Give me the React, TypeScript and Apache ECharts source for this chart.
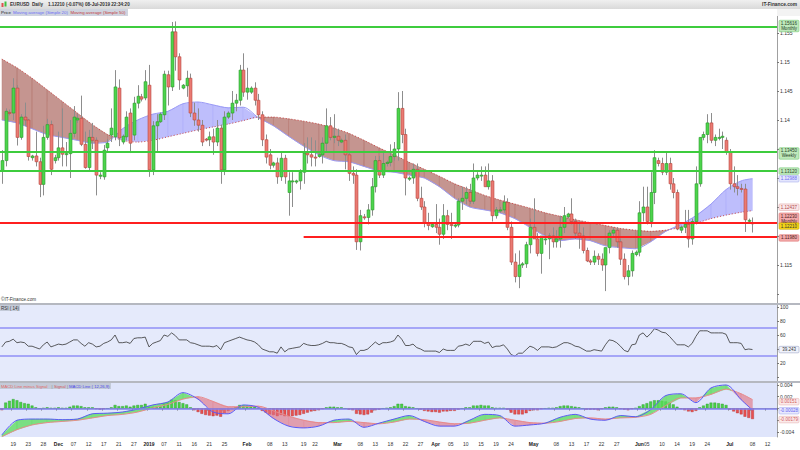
import React, { useEffect, useRef } from 'react';
import * as echarts from 'echarts';

// ---------- axis calendar (forex sessions incl. Sunday, no Dec 25 / Jan 1) ----------
const HOLIDAYS = ['2018-12-25', '2019-01-01'];
function buildDates(): string[] {
  const out: string[] = [];
  const d = new Date(Date.UTC(2018, 10, 15));
  const end = new Date(Date.UTC(2019, 6, 15));
  while (d <= end) {
    const s = d.toISOString().slice(0, 10);
    if (d.getUTCDay() !== 6 && !HOLIDAYS.includes(s)) out.push(s);
    d.setUTCDate(d.getUTCDate() + 1);
  }
  return out;
}
const dates = buildDates();

const tickDays = ['2018-11-19','2018-11-23','2018-11-28','2018-12-03','2018-12-07','2018-12-12','2018-12-17','2018-12-21','2018-12-27','2019-01-02','2019-01-07','2019-01-11','2019-01-16','2019-01-21','2019-01-25','2019-02-01','2019-02-08','2019-02-13','2019-02-19','2019-02-22','2019-03-01','2019-03-08','2019-03-13','2019-03-18','2019-03-22','2019-03-27','2019-04-01','2019-04-05','2019-04-10','2019-04-15','2019-04-19','2019-04-24','2019-05-01','2019-05-08','2019-05-13','2019-05-17','2019-05-22','2019-05-27','2019-06-03','2019-06-05','2019-06-10','2019-06-14','2019-06-19','2019-06-24','2019-07-01','2019-07-08','2019-07-12'];
const monthTicks: Record<string, string> = {'2018-12-03':'Dec','2019-01-02':'2019','2019-02-01':'Feb','2019-03-01':'Mar','2019-04-01':'Apr','2019-05-01':'May','2019-06-03':'Jun','2019-07-01':'Jul'};

// ---------- EURUSD daily candles [open, high, low, close] ----------
const candles: number[][] = [
[1.1313,1.1348,1.1290,1.1330],[1.1330,1.1420,1.1320,1.1415],[1.1413,1.1418,1.1408,1.1412],[1.1412,1.1472,1.1400,1.1455],[1.1455,1.1460,1.1356,1.1370],
[1.1370,1.1410,1.1366,1.1405],[1.1405,1.1430,1.1390,1.1400],[1.1400,1.1402,1.1330,1.1337],[1.1335,1.1340,1.1330,1.1338],[1.1338,1.1380,1.1320,1.1328],
[1.1328,1.1335,1.1267,1.1289],[1.1289,1.1390,1.1270,1.1370],[1.1370,1.1402,1.1366,1.1392],[1.1392,1.1399,1.1305,1.1315],[1.1330,1.1340,1.1325,1.1335],
[1.1335,1.1380,1.1330,1.1352],[1.1352,1.1420,1.1320,1.1341],[1.1341,1.1362,1.1320,1.1342],[1.1342,1.1400,1.1300,1.1377],[1.1377,1.1424,1.1370,1.1405],
[1.1400,1.1410,1.1395,1.1403],[1.1403,1.1442,1.1355,1.1358],[1.1358,1.1380,1.1316,1.1318],[1.1318,1.1383,1.1312,1.1370],[1.1370,1.1395,1.1350,1.1365],
[1.1365,1.1370,1.1270,1.1305],[1.1303,1.1310,1.1298,1.1305],[1.1302,1.1357,1.1297,1.1348],[1.1352,1.1367,1.1345,1.1360],[1.1374,1.1420,1.1362,1.1386],
[1.1371,1.1486,1.1365,1.1457],[1.1455,1.1470,1.1355,1.1369],[1.1362,1.1375,1.1358,1.1372],[1.1371,1.1415,1.1365,1.1405],[1.1412,1.1420,1.1343,1.1360],
[1.1374,1.1440,1.1365,1.1429],[1.1429,1.1460,1.1420,1.1441],[1.1440,1.1445,1.1432,1.1436],[1.1438,1.1486,1.1434,1.1466],[1.1460,1.1495,1.1302,1.1314],
[1.1314,1.1398,1.1305,1.1390],[1.1390,1.1410,1.1345,1.1397],[1.1397,1.1413,1.1395,1.1410],[1.1409,1.1485,1.1400,1.1479],[1.1478,1.1485,1.1425,1.1457],
[1.1457,1.1569,1.1450,1.1552],[1.1552,1.1570,1.1485,1.1509],[1.1509,1.1515,1.1452,1.1469],[1.1455,1.1462,1.1453,1.1460],[1.1459,1.1485,1.1440,1.1472],
[1.1472,1.1480,1.1405,1.1412],[1.1412,1.1430,1.1390,1.1400],[1.1400,1.1420,1.1380,1.1391],[1.1391,1.1400,1.1355,1.1362],[1.1367,1.1369,1.1363,1.1366],
[1.1366,1.1380,1.1355,1.1371],[1.1371,1.1385,1.1340,1.1362],[1.1362,1.1400,1.1355,1.1386],[1.1386,1.1392,1.1290,1.1314],[1.1314,1.1415,1.1305,1.1405],
[1.1405,1.1415,1.1402,1.1412],[1.1412,1.1450,1.1400,1.1429],[1.1429,1.1445,1.1415,1.1434],[1.1434,1.1495,1.1425,1.1486],[1.1486,1.1515,1.1440,1.1448],
[1.1448,1.1490,1.1435,1.1455],[1.1448,1.1458,1.1445,1.1455],[1.1455,1.1465,1.1425,1.1434],[1.1434,1.1445,1.1400,1.1409],[1.1409,1.1415,1.1355,1.1366],
[1.1366,1.1375,1.1325,1.1336],[1.1340,1.1350,1.1315,1.1322],[1.1322,1.1328,1.1318,1.1326],[1.1326,1.1335,1.1290,1.1302],[1.1302,1.1345,1.1295,1.1334],
[1.1334,1.1340,1.1290,1.1302],[1.1275,1.1310,1.1235,1.1295],[1.1295,1.1310,1.1250,1.1295],[1.1293,1.1297,1.1290,1.1295],[1.1295,1.1315,1.1280,1.1310],
[1.1310,1.1360,1.1290,1.1343],[1.1343,1.1370,1.1325,1.1340],[1.1340,1.1370,1.1320,1.1336],[1.1336,1.1365,1.1320,1.1335],[1.1337,1.1343,1.1335,1.1340],
[1.1340,1.1370,1.1325,1.1360],[1.1360,1.1420,1.1345,1.1390],[1.1390,1.1405,1.1365,1.1370],[1.1370,1.1410,1.1360,1.1372],[1.1372,1.1385,1.1355,1.1365],
[1.1362,1.1368,1.1360,1.1365],[1.1365,1.1375,1.1315,1.1340],[1.1340,1.1345,1.1295,1.1308],[1.1308,1.1320,1.1290,1.1305],[1.1305,1.1315,1.1176,1.1190],
[1.1190,1.1245,1.1175,1.1235],[1.1233,1.1238,1.1228,1.1232],[1.1232,1.1255,1.1220,1.1245],[1.1245,1.1300,1.1235,1.1285],[1.1285,1.1338,1.1275,1.1330],
[1.1330,1.1338,1.1300,1.1305],[1.1305,1.1345,1.1300,1.1325],[1.1325,1.1330,1.1320,1.1327],[1.1327,1.1358,1.1320,1.1337],[1.1337,1.1362,1.1330,1.1350],
[1.1350,1.1448,1.1330,1.1420],[1.1420,1.1450,1.1360,1.1375],[1.1375,1.1385,1.1270,1.1300],[1.1298,1.1303,1.1295,1.1300],[1.1300,1.1325,1.1290,1.1315],
[1.1315,1.1325,1.1260,1.1265],[1.1265,1.1285,1.1245,1.1250],[1.1250,1.1260,1.1215,1.1223],[1.1223,1.1240,1.1210,1.1218],[1.1216,1.1222,1.1214,1.1220],
[1.1220,1.1255,1.1205,1.1215],[1.1215,1.1230,1.1185,1.1203],[1.1203,1.1255,1.1195,1.1235],[1.1235,1.1245,1.1210,1.1220],[1.1220,1.1240,1.1195,1.1218],
[1.1217,1.1222,1.1214,1.1219],[1.1219,1.1265,1.1215,1.1260],[1.1260,1.1285,1.1245,1.1265],[1.1265,1.1285,1.1255,1.1275],[1.1275,1.1290,1.1255,1.1260],
[1.1260,1.1325,1.1255,1.1300],[1.1300,1.1310,1.1296,1.1305],[1.1305,1.1320,1.1295,1.1305],[1.1305,1.1320,1.1285,1.1285],[1.1285,1.1325,1.1280,1.1295],
[1.1295,1.1305,1.1225,1.1235],[1.1235,1.1250,1.1230,1.1245],[1.1245,1.1250,1.1240,1.1245],[1.1245,1.1270,1.1240,1.1258],[1.1258,1.1265,1.1210,1.1215],
[1.1215,1.1225,1.1150,1.1155],[1.1155,1.1170,1.1120,1.1130],[1.1130,1.1175,1.1110,1.1150],[1.1150,1.1155,1.1145,1.1152],[1.1152,1.1190,1.1145,1.1185],
[1.1185,1.1230,1.1170,1.1215],[1.1215,1.1265,1.1195,1.1195],[1.1195,1.1205,1.1165,1.1170],[1.1170,1.1200,1.1135,1.1200],[1.1195,1.1200,1.1185,1.1195],
[1.1195,1.1205,1.1160,1.1200],[1.1200,1.1215,1.1180,1.1190],[1.1190,1.1210,1.1180,1.1195],[1.1195,1.1235,1.1180,1.1215],[1.1215,1.1250,1.1205,1.1235],
[1.1233,1.1240,1.1230,1.1238],[1.1238,1.1265,1.1220,1.1225],[1.1225,1.1230,1.1195,1.1205],[1.1205,1.1225,1.1178,1.1200],[1.1200,1.1215,1.1170,1.1175],
[1.1175,1.1180,1.1155,1.1157],[1.1157,1.1160,1.1150,1.1155],[1.1155,1.1175,1.1150,1.1165],[1.1165,1.1170,1.1150,1.1160],[1.1160,1.1170,1.1140,1.1150],
[1.1150,1.1180,1.1105,1.1180],[1.1180,1.1210,1.1170,1.1205],[1.1205,1.1215,1.1200,1.1210],[1.1210,1.1215,1.1180,1.1190],[1.1190,1.1195,1.1150,1.1160],
[1.1160,1.1170,1.1125,1.1130],[1.1130,1.1150,1.1115,1.1140],[1.1140,1.1175,1.1130,1.1170],[1.1168,1.1175,1.1165,1.1172],[1.1172,1.1260,1.1165,1.1240],
[1.1240,1.1285,1.1225,1.1250],[1.1250,1.1285,1.1220,1.1225],[1.1225,1.1310,1.1215,1.1275],[1.1275,1.1348,1.1255,1.1335],[1.1330,1.1335,1.1320,1.1325],
[1.1325,1.1335,1.1305,1.1310],[1.1310,1.1345,1.1305,1.1325],[1.1325,1.1335,1.1280,1.1290],[1.1290,1.1300,1.1265,1.1275],[1.1275,1.1280,1.1210,1.1212],
[1.1210,1.1218,1.1205,1.1215],[1.1215,1.1245,1.1205,1.1220],[1.1220,1.1245,1.1180,1.1195],[1.1195,1.1230,1.1185,1.1225],[1.1225,1.1320,1.1220,1.1290],
[1.1290,1.1370,1.1285,1.1370],[1.1370,1.1380,1.1365,1.1375],[1.1375,1.1410,1.1360,1.1395],[1.1395,1.1412,1.1360,1.1365],[1.1365,1.1375,1.1355,1.1370],
[1.1370,1.1385,1.1365,1.1370],[1.1370,1.1380,1.1350,1.1372],[1.1365,1.1370,1.1340,1.1345],[1.1345,1.1350,1.1280,1.1290],[1.1290,1.1320,1.1275,1.1285],
[1.1285,1.1305,1.1270,1.1282],[1.1282,1.1290,1.1275,1.1281],[1.1281,1.1290,1.1207,1.1228],[1.1226,1.1230,1.1224,1.1227],[1.1223,1.1232,1.1206,1.1221]
];

// ---------- moving averages, read every 4th session (plus the last) ----------
const maDays = [0,4,8,12,16,20,24,28,32,36,40,44,48,52,56,60,64,68,72,76,80,84,88,92,96,100,104,108,112,116,120,124,128,132,136,140,144,148,152,156,160,164,168,172,176,180,184,188,192,196,199];
const ma20 = [1.1400,1.1395,1.1385,1.1375,1.1370,1.1365,1.1360,1.1362,1.1385,1.1400,1.1410,1.1415,1.1428,1.1431,1.1426,1.1421,1.1422,1.1404,1.1390,1.1372,1.1355,1.1340,1.1330,1.1328,1.1320,1.1312,1.1310,1.1305,1.1300,1.1285,1.1265,1.1250,1.1245,1.1240,1.1230,1.1215,1.1200,1.1192,1.1195,1.1192,1.1183,1.1180,1.1178,1.1190,1.1208,1.1220,1.1235,1.1255,1.1280,1.1295,1.12988];
const ma50 = [1.1505,1.1490,1.1472,1.1452,1.1432,1.1412,1.1392,1.1375,1.1365,1.1362,1.1365,1.1371,1.1377,1.1383,1.1388,1.1393,1.1399,1.1405,1.1405,1.1402,1.1398,1.1393,1.1386,1.1377,1.1365,1.1352,1.1340,1.1327,1.1315,1.1303,1.1290,1.1280,1.1270,1.1262,1.1255,1.1248,1.1240,1.1234,1.1228,1.1223,1.1218,1.1213,1.1210,1.1208,1.1210,1.1215,1.1222,1.1230,1.1236,1.1241,1.12437];

// ---------- RSI(14), one value per session ----------
const rsi = [43,50,51,54,49,50,49,44,44,42,40,46,50,43,45,47,46,47,50,53,53,48,44,49,47,43,44,48,50,53,
60,49,49,50,48,55,56,56,57,43,48,50,52,60,58,63,59,53,53,53,49,48,46,44,44,44,43,45,39,49,
51,53,55,57,55,53,52,50,46,40,38,36,36,34,43,36,40,41,42,43,48,46,45,45,46,48,51,49,49,48,
48,46,43,42,32,38,38,40,45,50,46,49,49,50,52,60,54,45,45,47,42,40,37,37,37,37,35,40,38,38,
38,44,45,47,45,51,51,51,48,50,42,44,44,46,40,32,30,34,34,39,44,42,38,43,43,43,42,43,46,49,
49,47,44,43,40,37,37,39,38,37,46,53,52,49,44,38,36,46,47,60,63,57,62,69,67,64,63,58,52,46,
46,46,43,48,58,66,66,66,63,63,63,63,61,49,49,49,48,39,40,39.243];

// ---------- MACD (12,26,9): lines read every 4th session, histogram per session ----------
const macdLine = [-0.0045,-0.0020,-0.0018,-0.0018,-0.0019,-0.0018,-0.0009,-0.0008,-0.0006,-0.0001,0.0006,0.0011,0.0027,0.0016,-0.0006,-0.0009,0.0006,0.0002,-0.0017,-0.0030,-0.0033,-0.0030,-0.0020,-0.0018,-0.0032,-0.0025,-0.0018,-0.0012,-0.0022,-0.0030,-0.0030,-0.0020,-0.0010,-0.0012,-0.0030,-0.0028,-0.0025,-0.0015,-0.0010,-0.0018,-0.0020,-0.0012,-0.0014,-0.0002,0.0022,0.0025,0.0010,0.0035,0.0040,0.0015,-0.00028];
const signalLine = [-0.0048,-0.0036,-0.0028,-0.0024,-0.0022,-0.0020,-0.0016,-0.0012,-0.0010,-0.0006,0.0001,0.0007,0.0016,0.0020,0.0012,0.0003,0.0003,0.0004,-0.0004,-0.0013,-0.0020,-0.0024,-0.0024,-0.0022,-0.0024,-0.0026,-0.0023,-0.0018,-0.0019,-0.0023,-0.0026,-0.0025,-0.0020,-0.0016,-0.0020,-0.0024,-0.0025,-0.0022,-0.0017,-0.0016,-0.0018,-0.0016,-0.0015,-0.0010,0.0005,0.0018,0.0018,0.0024,0.0033,0.0025,0.00151];
const macdHist = [
-0.0003,0.0010,0.0013,0.0016,0.0014,0.0011,0.0009,0.0008,0.0005,0.0002,0.0000,0.0001,0.0002,0.0001,0.0001,0.0002,0.0001,0.0001,0.0003,0.0005,
0.0005,0.0004,0.0002,0.0002,0.0002,-0.0001,-0.0002,-0.0001,0.0000,0.0002,0.0006,0.0004,0.0004,0.0005,0.0003,0.0005,0.0006,0.0006,0.0008,0.0003,
0.0003,0.0003,0.0004,0.0009,0.0010,0.0015,0.0014,0.0011,0.0009,0.0007,0.0002,-0.0003,-0.0006,-0.0009,-0.0011,-0.0012,-0.0013,-0.0012,-0.0014,-0.0008,
-0.0004,-0.0001,0.0002,0.0006,0.0005,0.0005,0.0005,0.0003,0.0000,-0.0004,-0.0007,-0.0010,-0.0011,-0.0013,-0.0011,-0.0013,-0.0013,-0.0013,-0.0012,-0.0011,
-0.0009,-0.0007,-0.0005,-0.0004,-0.0003,-0.0001,0.0002,0.0003,0.0003,0.0002,0.0002,0.0000,-0.0002,-0.0003,-0.0009,-0.0010,-0.0011,-0.0010,-0.0007,-0.0003,
-0.0002,0.0000,0.0001,0.0002,0.0004,0.0008,0.0008,0.0004,0.0003,0.0002,0.0000,-0.0002,-0.0004,-0.0005,-0.0006,-0.0006,-0.0007,-0.0005,-0.0005,-0.0004,
-0.0004,-0.0002,0.0000,0.0002,0.0002,0.0005,0.0005,0.0006,0.0005,0.0005,0.0002,0.0001,0.0001,0.0001,-0.0002,-0.0007,-0.0010,-0.0010,-0.0010,-0.0008,
-0.0004,-0.0003,-0.0003,-0.0001,0.0000,0.0001,0.0001,0.0002,0.0004,0.0005,0.0005,0.0004,0.0003,0.0002,0.0000,-0.0002,-0.0002,-0.0002,-0.0003,-0.0001,
0.0002,0.0003,0.0003,0.0002,-0.0001,-0.0002,-0.0003,-0.0001,0.0001,0.0004,0.0007,0.0009,0.0012,0.0014,0.0014,0.0013,0.0012,0.0010,0.0007,0.0003,
-0.0001,-0.0003,-0.0005,-0.0006,-0.0004,0.0002,0.0005,0.0008,0.0010,0.0010,0.0009,0.0008,0.0006,-0.0002,-0.0005,-0.0008,-0.0010,-0.0014,-0.0016,-0.00179
];

// ---------- horizontal levels ----------
const greenLevels = [1.15616, 1.1345, 1.1312];
const redLevels = [1.1223, 1.1198];
const redLevelStartIdx = 80; // 2019-02-19

// ---------- helpers ----------
const N = dates.length;
const sparse = (vals: number[]) => {
  const a: (number | null)[] = new Array(N).fill(null);
  maDays.forEach((d, k) => { a[d] = vals[k]; });
  return a;
};
const pairs = (a: number[], b: number[]) =>
  maDays.slice(0, -1).map((d, k) => [d, a[k], b[k], maDays[k + 1], a[k + 1], b[k + 1]]);

const FONT = 'Liberation Sans, Arial, sans-serif';

function bandRender(upColor: string, downColor: string) {
  return (params: any, api: any) => {
    const i0 = api.value(0), a0 = api.value(1), b0 = api.value(2);
    const i1 = api.value(3), a1 = api.value(4), b1 = api.value(5);
    const A0 = api.coord([i0, a0]), B0 = api.coord([i0, b0]);
    const A1 = api.coord([i1, a1]), B1 = api.coord([i1, b1]);
    const d0 = a0 - b0, d1 = a1 - b1;
    const col = (d: number) => (d >= 0 ? upColor : downColor);
    const st = (c: string) => ({ fill: c, stroke: c, lineWidth: 0.3 });
    if (d0 * d1 >= 0) {
      return { type: 'polygon', shape: { points: [A0, A1, B1, B0] }, style: st(col(d0 + d1)) };
    }
    const t = d0 / (d0 - d1);
    const X = [A0[0] + (A1[0] - A0[0]) * t, A0[1] + (A1[1] - A0[1]) * t];
    return {
      type: 'group',
      children: [
        { type: 'polygon', shape: { points: [A0, X, B0] }, style: st(col(d0)) },
        { type: 'polygon', shape: { points: [X, A1, B1] }, style: st(col(d1)) },
      ],
    };
  };
}

function candleRender(params: any, api: any) {
  const i = api.value(0);
  const o = api.value(1), c = api.value(2), l = api.value(3), h = api.value(4);
  const pO = api.coord([i, o]), pC = api.coord([i, c]);
  const pL = api.coord([i, l]), pH = api.coord([i, h]);
  const w = Math.max(1.5, api.size([1, 0])[0] * 0.78);
  const up = c >= o;
  const top = Math.min(pO[1], pC[1]);
  const bh = Math.max(1, Math.abs(pO[1] - pC[1]));
  const x = Math.round(pO[0]) + 0.5;
  return {
    type: 'group',
    children: [
      { type: 'line', shape: { x1: x, y1: pH[1], x2: x, y2: pL[1] }, style: { stroke: '#8d8d8d', lineWidth: 1 } },
      { type: 'rect', shape: { x: x - w / 2, y: top, width: w, height: bh },
        style: { fill: up ? '#4cd44c' : '#ea7a72', stroke: up ? '#2a9a2a' : '#b8443c', lineWidth: 0.6 } },
    ],
  };
}

// labels that the value tags cover are left out
const priceFmt = (v: number) => {
  const k = Math.round(v / 0.005);
  if (Math.abs(v - k * 0.005) > 1e-7) return '';
  if ([222, 224, 225, 226, 227].includes(k)) return '';
  return String(+v.toFixed(3));
};
const rsiFmt = (v: number) => ([20, 60, 80, 100].includes(Math.round(v)) && Math.abs(v - Math.round(v)) < 1e-6 ? String(Math.round(v)) : '');
const macdFmt = (v: number) => {
  const k = Math.round(v / 0.002);
  if (Math.abs(v - k * 0.002) > 1e-9) return '';
  if (k === 0 || k === -1) return '';
  return String(+v.toFixed(3));
};

function grad(top: string, bottom: string) {
  return { type: 'linear', x: 0, y: 0, x2: 0, y2: 1, colorStops: [{ offset: 0, color: top }, { offset: 1, color: bottom }] };
}

const P_MIN = 1.108448, P_MAX = 1.157931;

function buildOption(): any {
  const xAxisBase = (gi: number, show: boolean) => ({
    type: 'category', gridIndex: gi, data: dates, boundaryGap: true,
    axisLine: { show: show, lineStyle: { color: '#9a9a9a' } },
    axisTick: { show: show, length: 2, interval: (i: number, v: string) => tickDays.includes(v), lineStyle: { color: '#777' } },
    axisLabel: {
      show: show, fontSize: 5, fontFamily: FONT, color: '#333', margin: 4,
      interval: (i: number, v: string) => tickDays.includes(v),
      formatter: (v: string) => (monthTicks[v] ? '{b|' + monthTicks[v] + '}' : v.slice(8, 10)),
      rich: { b: { fontWeight: 'bold', fontSize: 5, fontFamily: FONT, color: '#222' } },
    },
    splitLine: { show: false },
  });
  const yAxisBase = (gi: number, min: number, max: number, split: number, fmt: any) => ({
    type: 'value', gridIndex: gi, position: 'right', min, max, splitNumber: split, scale: true,
    axisLine: { show: true, lineStyle: { color: '#a0a0a0' } },
    axisTick: { show: true, length: 2, lineStyle: { color: '#777' } },
    axisLabel: { fontSize: 5, fontFamily: FONT, color: '#333', margin: 3, formatter: fmt, showMinLabel: false, showMaxLabel: false },
    splitLine: { show: false },
  });

  const candleData = candles.map((c, i) => [i, c[0], c[3], c[2], c[1]]);
  const solid = (color: string) => ({ color, width: 2, type: 'solid' });

  return {
    animation: false,
    backgroundColor: '#ffffff',
    textStyle: { fontFamily: FONT },
    grid: [
      { left: 0, right: 23, top: 16, height: 287, show: true, backgroundColor: '#ffffff', borderWidth: 0 },
      { left: 0, right: 23, top: 305, height: 76, show: true, backgroundColor: '#e5eafb', borderWidth: 0 },
      { left: 0, right: 23, top: 383, height: 54, show: true, backgroundColor: '#dfe5fb', borderWidth: 0 },
    ],
    xAxis: [xAxisBase(0, false), xAxisBase(1, false), xAxisBase(2, true)],
    yAxis: [
      yAxisBase(0, P_MIN, P_MAX, 10, priceFmt),
      yAxisBase(1, -5.71, 102.86, 5, rsiFmt),
      yAxisBase(2, -0.004851, 0.00434, 5, macdFmt),
    ],
    series: [
      {
        name: 'Moving average (Simple 20)', type: 'line', xAxisIndex: 0, yAxisIndex: 0, z: 2,
        data: sparse(ma20), connectNulls: true, showSymbol: false, symbol: 'none', smooth: 0.3,
        lineStyle: { color: '#9a9af5', width: 1 }, silent: true,
        markArea: {
          silent: true, z: -5,
          data: [
            [{ yAxis: P_MAX, itemStyle: { color: '#dff2df' } }, { yAxis: 1.15616 }],
            [{ yAxis: 1.15616, itemStyle: { color: grad('#e2f3e2', '#ffffff') } }, { yAxis: 1.1435 }],
            [{ yAxis: 1.1435, itemStyle: { color: grad('#ffffff', '#e3f3e3') } }, { yAxis: 1.1345 }],
            [{ yAxis: 1.1345, itemStyle: { color: '#e0f1e0' } }, { yAxis: 1.1312 }],
            [{ yAxis: 1.1312, itemStyle: { color: grad('#f6f6fe', '#e8eafb') } }, { yAxis: 1.1223 }],
            [{ yAxis: 1.1223, itemStyle: { color: grad('#e8eafb', '#e1e5fa') } }, { yAxis: P_MIN }],
          ],
        },
      },
      {
        name: 'MA band', type: 'custom', xAxisIndex: 0, yAxisIndex: 0, z: 1, silent: true, clip: true,
        renderItem: bandRender('rgba(150,150,250,0.62)', 'rgba(150,62,52,0.55)'),
        encode: { x: [0, 3], y: [1, 2, 4, 5] },
        data: pairs(ma20, ma50),
      },
      {
        name: 'Moving average (Simple 50)', type: 'line', xAxisIndex: 0, yAxisIndex: 0, z: 2,
        data: sparse(ma50), connectNulls: true, showSymbol: false, symbol: 'none', smooth: 0.3,
        lineStyle: { color: '#c84848', width: 1, type: [1, 2] }, silent: true,
      },
      {
        name: 'EURUSD', type: 'custom', xAxisIndex: 0, yAxisIndex: 0, z: 3, clip: true,
        renderItem: candleRender, encode: { x: 0, y: [1, 2, 3, 4] }, data: candleData,
        markLine: {
          silent: true, symbol: ['none', 'none'], label: { show: false }, z: 6,
          data: [
            ...greenLevels.map((v) => [
              { coord: [0, v], x: 0, lineStyle: solid('#3dcc3d') },
              { coord: [N - 1, v], x: 777 },
            ]),
            [{ coord: [0, redLevels[0]], x: 0, lineStyle: solid('#ff1f1f') }, { coord: [N - 1, redLevels[0]], x: 777 }],
            [{ coord: [redLevelStartIdx, redLevels[1]], lineStyle: solid('#ff1f1f') }, { coord: [N - 1, redLevels[1]], x: 777 }],
          ],
        },
      },
      {
        name: 'RSI (14)', type: 'line', xAxisIndex: 1, yAxisIndex: 1, data: rsi, showSymbol: false, symbol: 'none',
        lineStyle: { color: '#333', width: 0.8 }, silent: true, z: 3,
        markLine: {
          silent: true, symbol: ['none', 'none'], label: { show: false },
          lineStyle: { color: '#8f8ff6', width: 1.5, type: 'solid' },
          data: [{ yAxis: 70 }, { yAxis: 30 }],
        },
      },
      {
        name: 'MACD Line minus Signal', type: 'bar', xAxisIndex: 2, yAxisIndex: 2, barWidth: '75%', z: 2,
        data: macdHist.map((v) => ({
          value: v,
          itemStyle: { color: v >= 0 ? '#48d048' : '#e85050', borderColor: v >= 0 ? '#2a9a2a' : '#b03030', borderWidth: 0.4 },
        })),
        silent: true,
      },
      {
        name: 'MACD fill', type: 'custom', xAxisIndex: 2, yAxisIndex: 2, z: 3, silent: true, clip: true,
        renderItem: bandRender('rgba(90,220,90,0.75)', 'rgba(225,110,125,0.6)'),
        encode: { x: [0, 3], y: [1, 2, 4, 5] },
        data: pairs(macdLine, signalLine),
      },
      {
        name: 'Signal', type: 'line', xAxisIndex: 2, yAxisIndex: 2, data: sparse(signalLine), connectNulls: true,
        showSymbol: false, symbol: 'none', smooth: 0.3, lineStyle: { color: '#e88a8a', width: 1 }, z: 4, silent: true,
      },
      {
        name: 'MACD Line', type: 'line', xAxisIndex: 2, yAxisIndex: 2, data: sparse(macdLine), connectNulls: true,
        showSymbol: false, symbol: 'none', smooth: 0.3, lineStyle: { color: '#5a5af5', width: 1 }, z: 4, silent: true,
        markLine: {
          silent: true, symbol: ['none', 'none'], label: { show: false },
          lineStyle: { color: '#8080f0', width: 1.5, type: 'solid' }, data: [{ yAxis: 0 }],
        },
      },
    ],
  };
}

type Tag = { v: number; lines: string[]; bg: string; fg: string; border: string; dy: number; axis: number };
const GREEN_TAG = { bg: '#bfe8bb', fg: '#1e3e1e', border: '#78cc78' };
const RED_TAG = { bg: '#f3a9a9', fg: '#4a1a1a', border: '#e07a7a' };
const priceTags: Tag[] = [
  { v: 1.15616, lines: ['1.15616', 'Monthly'], ...GREEN_TAG, dy: -2.8, axis: 0 },
  { v: 1.1345, lines: ['1.13450', 'Weekly'], ...GREEN_TAG, dy: -1, axis: 0 },
  { v: 1.1312, lines: ['1.13120'], ...GREEN_TAG, dy: 0, axis: 0 },
  { v: 1.12988, lines: ['1.12988'], bg: '#e4e6fd', fg: '#6a6af0', border: '#aab0ee', dy: 0, axis: 0 },
  { v: 1.12437, lines: ['1.12437'], bg: '#fbe9ea', fg: '#b04848', border: '#e2aaaa', dy: -3.5, axis: 0 },
  { v: 1.1223, lines: ['1.12230', 'Monthly'], ...RED_TAG, dy: -6.5, axis: 0 },
  { v: 1.1221, lines: ['1.12210'], bg: '#f4d418', fg: '#333', border: '#c9a800', dy: 2.2, axis: 0 },
  { v: 1.1198, lines: ['1.11980'], ...RED_TAG, dy: 0.7, axis: 0 },
  { v: 39.243, lines: ['39.243'], bg: '#f0f2fb', fg: '#333', border: '#9ea6c8', dy: 0, axis: 1 },
  { v: 0.00151, lines: ['0.00151'], bg: '#fbeaea', fg: '#d05a5a', border: '#e6b4b4', dy: 2, axis: 2 },
  { v: -0.00028, lines: ['-0.00028'], bg: '#e8eafd', fg: '#5a5af0', border: '#a8aef0', dy: 0.5, axis: 2 },
  { v: -0.00179, lines: ['-0.00179'], bg: '#fbeaea', fg: '#d05a5a', border: '#e6b4b4', dy: 0.5, axis: 2 },
];

function staticGraphics(): any[] {
  const t = (x: number, y: number, text: string, fill: string, size = 4.6, weight: any = 'normal', align = 'left') => ({
    type: 'text', x, y, z: 50, style: { text, fill, fontSize: size, fontFamily: FONT, fontWeight: weight, textAlign: align, textVerticalAlign: 'middle' },
  });
  return [
    { type: 'rect', z: 40, shape: { x: 0, y: 0, width: 800, height: 9 }, style: { fill: grad('#f0f0f0', '#d9d9d9') } },
    { type: 'rect', z: 40, shape: { x: 777, y: 9, width: 23, height: 7 }, style: { fill: '#f3f3f3' } },
    { type: 'rect', z: 41, shape: { x: 1.5, y: 3, width: 2, height: 4 }, style: { fill: '#e05050' } },
    { type: 'rect', z: 41, shape: { x: 4.5, y: 1.5, width: 2, height: 5 }, style: { fill: '#40c040' } },
    t(10, 4.5, 'EURUSD', '#333', 4.6, 'bold'),
    t(32, 4.5, 'Daily', '#333', 4.6, 'bold'),
    t(48, 4.5, '1.12210 (-0.07%)', '#333', 4.6, 'bold'),
    t(85, 4.5, '08-Jul-2019 22:34:20', '#333', 4.6, 'bold'),
    t(797, 4.5, 'IT-Finance.com', '#333', 4.8, 'bold', 'right'),
    { type: 'rect', z: 40, shape: { x: 0, y: 9, width: 128, height: 7 }, style: { fill: '#cfd4df' } },
    t(1, 12.5, 'Price', '#222', 4.4),
    t(13, 12.5, 'Moving average (Simple 20)', '#6c6cf5', 4.4),
    t(70.5, 12.5, 'Moving average (Simple 50)', '#c23a3a', 4.4),
    t(1, 299, '\u00a9IT-Finance.com', '#333', 4.6),
    { type: 'rect', z: 40, shape: { x: 0, y: 303, width: 800, height: 2 }, style: { fill: '#b5b8c0' } },
    { type: 'rect', z: 40, shape: { x: 0, y: 381, width: 800, height: 2 }, style: { fill: '#b5b8c0' } },
    { type: 'rect', z: 40, shape: { x: 0, y: 305, width: 20, height: 6 }, style: { fill: '#c3cad8' } },
    t(1, 308, 'RSI ( 14)', '#333', 4.5),
    { type: 'rect', z: 40, shape: { x: 0, y: 383, width: 111, height: 6 }, style: { fill: '#c3cad8' } },
    t(1, 386, 'MACD Line minus Signal', '#e06a6a', 4.2),
    t(51.5, 386, '|', '#888', 4.2),
    t(54, 386, 'Signal', '#d05858', 4.2),
    t(67, 386, '|', '#888', 4.2),
    t(69, 386, 'MACD Line ( 12,26,9)', '#4848e8', 4.2),
  ];
}

function tagGraphics(chart: any): any[] {
  const out: any[] = [];
  priceTags.forEach((tg) => {
    const y = chart.convertToPixel({ yAxisIndex: tg.axis }, tg.v) + tg.dy;
    const h = tg.lines.length * 5 + 1.5;
    const top = y - 3.2;
    out.push({ type: 'rect', z: 60, shape: { x: 779, y: top, width: 20, height: h, r: 1 }, style: { fill: tg.bg, stroke: tg.border, lineWidth: 0.6 } });
    tg.lines.forEach((ln, k) => {
      out.push({ type: 'text', z: 61, x: 789, y: top + 3.2 + k * 5,
        style: { text: ln, fill: tg.fg, fontSize: 4.5, fontFamily: FONT, textAlign: 'center', textVerticalAlign: 'middle' } });
    });
  });
  return out;
}

export default function App() {
  const ref = useRef<HTMLDivElement>(null);
  useEffect(() => {
    const chart = echarts.init(ref.current!, null, { renderer: 'svg' });
    chart.setOption(buildOption());
    chart.setOption({ graphic: { elements: [...staticGraphics(), ...tagGraphics(chart)] } });
    return () => chart.dispose();
  }, []);
  return <div ref={ref} style={{ position: 'fixed', left: 0, top: 0, width: 800, height: 450 }} />;
}
